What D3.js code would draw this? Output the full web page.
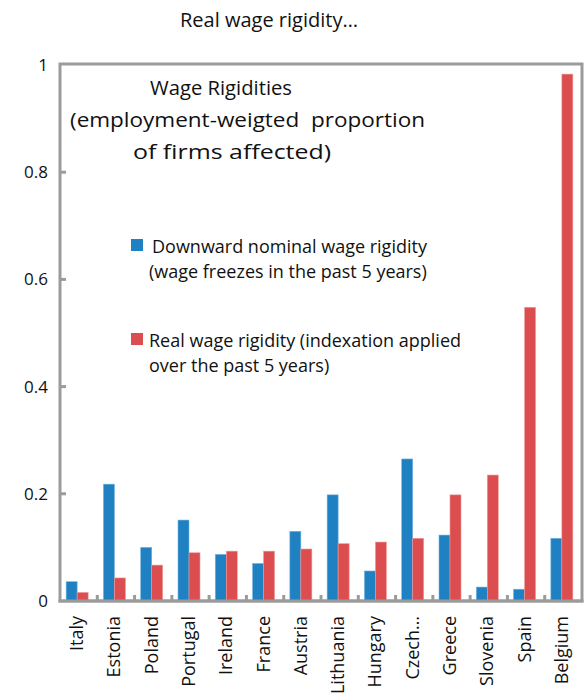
<!DOCTYPE html>
<html>
<head>
<meta charset="utf-8">
<script src="https://cdn.jsdelivr.net/npm/d3@7"></script>
<style>
  body { margin: 0; background: #fff; }
  svg text { font-family: "Open Sans", "Noto Sans", sans-serif; fill: #111; }
</style>
</head>
<body>
<script>
// chart data
var countries = ["Italy", "Estonia", "Poland", "Portugal", "Ireland", "France", "Austria",
  "Lithuania", "Hungary", "Czech\u2026", "Greece", "Slovenia", "Spain", "Belgium"];
var nominalRigidity = [0.036, 0.218, 0.100, 0.151, 0.087, 0.070, 0.130,
  0.198, 0.056, 0.265, 0.123, 0.026, 0.022, 0.117];
var realRigidity = [0.016, 0.043, 0.067, 0.090, 0.093, 0.093, 0.097,
  0.107, 0.110, 0.117, 0.198, 0.235, 0.548, 0.983];
var yTicks = [0, 0.2, 0.4, 0.6, 0.8, 1];
var seriesNames = ["Downward nominal wage rigidity", "Real wage rigidity (indexation applied"];

var width = 587, height = 698;
var plotL = 60, plotR = 582, plotT = 64, plotB = 601;
var blue = "#1f80c2", red = "#dc4d4f", frameColor = "#9b9b9b";

var svg = d3.select("body").append("svg")
  .attr("width", width)
  .attr("height", height);

var x = d3.scaleBand().domain(countries).range([plotL, plotR]).paddingInner(0).paddingOuter(0);
var y = d3.scaleLinear().domain([0, 1]).range([plotB, 65]);
var barW = 11;

// title
svg.append("text").attr("x", 269).attr("y", 27).attr("text-anchor", "middle")
  .style("font-size", "20px").text("Real wage rigidity\u2026");

// frame
svg.append("rect").attr("x", plotL).attr("y", plotT)
  .attr("width", plotR - plotL).attr("height", plotB - plotT)
  .attr("fill", "none").attr("stroke", frameColor).attr("stroke-width", 3);

// y ticks
svg.selectAll(".ytick").data(yTicks.slice(1, -1)).enter().append("line")
  .attr("x1", plotL).attr("x2", plotL + 6)
  .attr("y1", function(d) { return y(d); }).attr("y2", function(d) { return y(d); })
  .attr("stroke", frameColor).attr("stroke-width", 3);
svg.selectAll(".ylab").data(yTicks).enter().append("text")
  .attr("x", 48).attr("y", function(d) { return y(d) + 6; })
  .attr("text-anchor", "end").style("font-size", "17px")
  .text(function(d) { return d3.format("")(d); });

// category ticks
svg.selectAll(".xtick").data(countries.slice(1)).enter().append("line")
  .attr("x1", function(d) { return x(d); }).attr("x2", function(d) { return x(d); })
  .attr("y1", plotB).attr("y2", plotB - 6)
  .attr("stroke", frameColor).attr("stroke-width", 3);

// bars
var groups = svg.selectAll(".grp").data(countries).enter().append("g")
  .attr("transform", function(d) { return "translate(" + (x(d) + x.bandwidth() / 2 - 1.5) + ",0)"; });
groups.append("rect")
  .attr("x", -barW).attr("width", barW)
  .attr("y", function(d, i) { return y(nominalRigidity[i]); })
  .attr("height", function(d, i) { return y(0) - y(nominalRigidity[i]); })
  .attr("fill", blue).attr("stroke", "#72b3e0").attr("stroke-width", 0.6);
groups.append("rect")
  .attr("x", 0).attr("width", barW)
  .attr("y", function(d, i) { return y(realRigidity[i]); })
  .attr("height", function(d, i) { return y(0) - y(realRigidity[i]); })
  .attr("fill", red).attr("stroke", "#ef9a9a").attr("stroke-width", 0.6);

// redraw bottom edge over bars
svg.append("line").attr("x1", plotL - 1.5).attr("x2", plotR + 1.5)
  .attr("y1", plotB).attr("y2", plotB)
  .attr("stroke", frameColor).attr("stroke-width", 3);

// x labels
groups.append("text")
  .attr("transform", "translate(6,616) rotate(-90)")
  .attr("text-anchor", "end")
  .style("font-size", "18px")
  .text(function(d) { return d; });

// inner heading
var heading = [
  { t: "Wage Rigidities", x: 150, len: 142 },
  { t: "(employment-weigted\u00a0 proportion", x: 70, len: 355 },
  { t: "of firms affected)", x: 133, len: 198 }
];
heading.forEach(function(h, i) {
  svg.append("text").attr("x", h.x).attr("y", 95 + i * 32)
    .attr("textLength", h.len).attr("lengthAdjust", "spacingAndGlyphs")
    .style("font-size", "20px").text(h.t);
});

// legend
var legend = [
  { color: blue, y: 239, lines: [seriesNames[0], "(wage freezes in the past 5 years)"], dx: 152 },
  { color: red, y: 333, lines: [seriesNames[1], "over the past 5 years)"], dx: 149 }
];
legend.forEach(function(l) {
  svg.append("rect").attr("x", 131).attr("y", l.y).attr("width", 12).attr("height", 12).attr("fill", l.color);
  l.lines.forEach(function(t, j) {
    svg.append("text").attr("x", j === 0 ? l.dx : 149).attr("y", l.y + 14 + j * 25)
      .style("font-size", "18px").text(t);
  });
});
</script>
</body>
</html>
